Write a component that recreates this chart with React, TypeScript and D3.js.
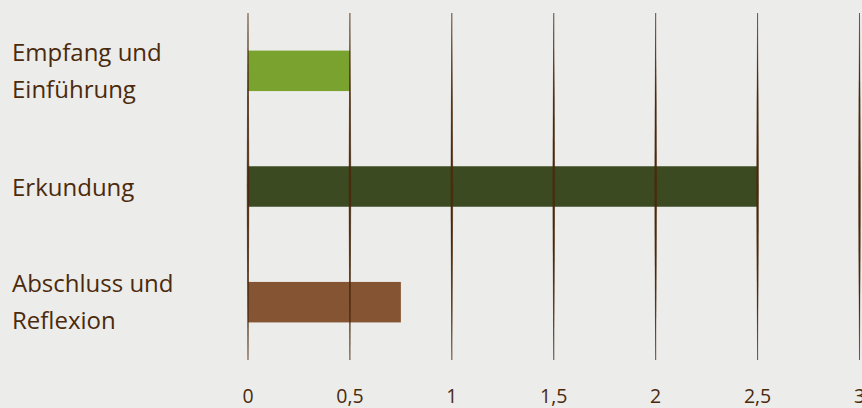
import React from "react";
import * as d3 from "d3";

const categories = ["Empfang und Einführung", "Erkundung", "Abschluss und Reflexion"];
const labelLines = [["Empfang und", "Einführung"], ["Erkundung"], ["Abschluss und", "Reflexion"]];
const values = [0.5, 2.5, 0.75];
const barColors = ["#7AA22F", "#3C4A22", "#845433"];
const ticks = [0, 0.5, 1, 1.5, 2, 2.5, 3];
const tickLabels = ["0", "0,5", "1", "1,5", "2", "2,5", "3"];

const W = 862, H = 408;
const TEXT = "#4B2A0C";
const FONT = "'Open Sans', 'Noto Sans', sans-serif";

export default function App() {
  const x = d3.scaleLinear().domain([0, 3]).range([248, 859.5]);
  const y = d3.scaleBand<string>().domain(categories).range([13, 360]).paddingInner(0.65).paddingOuter(0.325);
  const gridTop = 13, gridBot = 360;
  const lens = (px: number) => {
    const m = (gridTop + gridBot) / 2;
    return `M${px},${gridTop} Q${px + 1.8},${m} ${px},${gridBot} Q${px - 1.8},${m} ${px},${gridTop}Z`;
  };
  return (
    <svg width={W} height={H} style={{ position: "absolute", left: 0, top: 0 }} fontFamily={FONT}>
      <rect width={W} height={H} fill="#ECECEB" />
      {values.map((v, i) => (
        <rect key={i} x={x(0)} y={y(categories[i])} width={x(v) - x(0)} height={y.bandwidth()} fill={barColors[i]} />
      ))}
      {ticks.map((t, i) => (
        <path key={i} d={lens(x(t))} fill={TEXT} stroke={TEXT} strokeWidth={0.5} />
      ))}
      {ticks.map((t, i) => (
        <text key={i} x={x(t)} y={403} textAnchor="middle" fontSize={19.5} fill={TEXT}>{tickLabels[i]}</text>
      ))}
      {categories.map((c, i) => {
        const lines = labelLines[i];
        const cy = (y(c) as number) + y.bandwidth() / 2;
        const lh = 37;
        const start = lines.length > 1 ? cy - 10 : cy + 9;
        return lines.map((ln, j) => (
          <text key={c + j} x={12} y={start + j * lh} fontSize={24} fill={TEXT}>{ln}</text>
        ));
      })}
    </svg>
  );
}
